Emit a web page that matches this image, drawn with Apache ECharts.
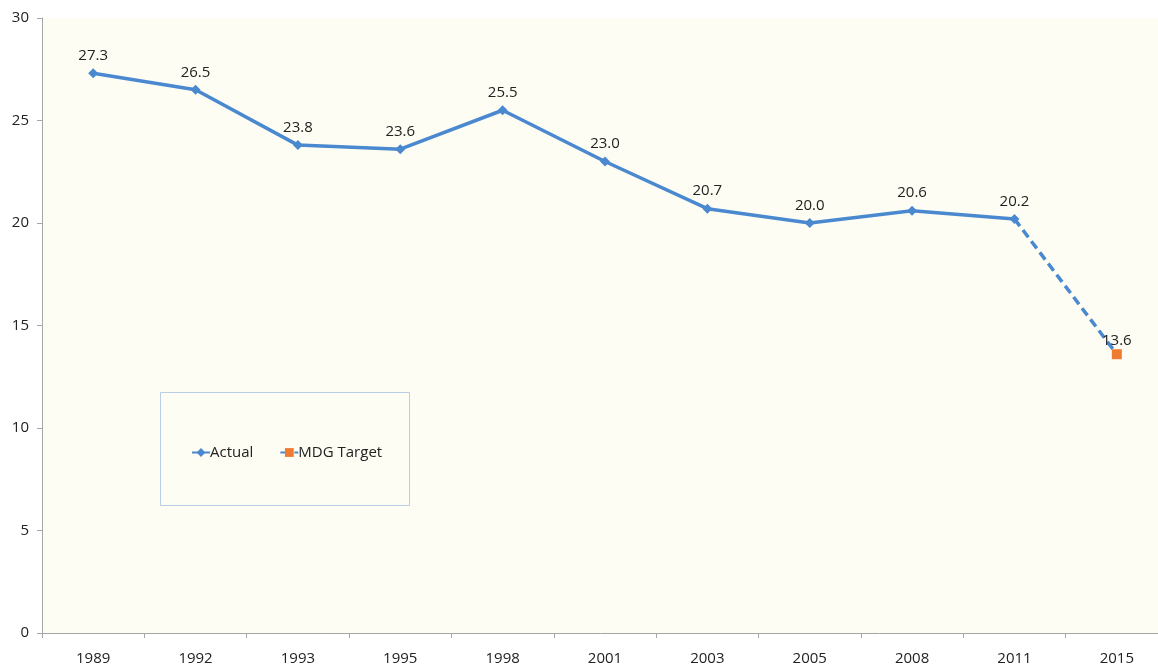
<!DOCTYPE html>
<html>
<head>
<meta charset="utf-8">
<script src="https://cdn.jsdelivr.net/npm/echarts@6/dist/echarts.min.js"></script>
<style>
  html, body { margin: 0; padding: 0; background: #fff; }
  #chart_div { width: 1158px; height: 667px; }
</style>
</head>
<body>
<div id="chart_div"></div>
<script>
var years = ["1989", "1992", "1993", "1995", "1998", "2001", "2003", "2005", "2008", "2011", "2015"];
var actual = [27.3, 26.5, 23.8, 23.6, 25.5, 23.0, 20.7, 20.0, 20.6, 20.2, null];
var target = [null, null, null, null, null, null, null, null, null, 20.2, 13.6];
var yTicks = { min: 0, max: 30, step: 5 };

var blue = "#4A89CF";
var orange = "#EE7B30";
var font = "Open Sans";

var myChart = echarts.init(document.getElementById("chart_div"));

var targetData = target.map(function (v, i) {
  if (v === null) return null;
  // the start of the dashed part sits on the last actual point, no marker there
  if (i < target.length - 1) {
    return { value: v, symbol: "none", label: { show: false } };
  }
  return v;
});

var option = {
  animation: false,
  textStyle: { fontFamily: font },
  grid: {
    left: 42,
    top: 18,
    right: -10,
    bottom: 34,
    outerBoundsMode: "none",
    containLabel: false,
    show: true,
    backgroundColor: "#FEFDF4",
    borderWidth: 0
  },
  graphic: [
    {
      type: "rect",
      left: 160,
      top: 392,
      shape: { width: 249, height: 113 },
      style: { fill: "#FEFDF4", stroke: "#B9CDE6", lineWidth: 1 },
      z: 5
    }
  ],
  legend: {
    left: 186,
    top: 440,
    z: 6,
    itemGap: 26,
    itemWidth: 18,
    itemHeight: 11,
    textStyle: { fontFamily: font, fontSize: 15, color: "#222", padding: [0, 0, 0, -5] },
    data: ["Actual", "MDG Target"]
  },
  xAxis: {
    type: "category",
    data: years,
    boundaryGap: true,
    axisLine: { lineStyle: { color: "#A6A6A6", width: 1 } },
    axisTick: { show: true, length: 5, lineStyle: { color: "#A6A6A6" } },
    axisLabel: { color: "#222", fontSize: 15, margin: 18, fontFamily: font },
    splitLine: { show: false }
  },
  yAxis: {
    type: "value",
    min: yTicks.min,
    max: yTicks.max,
    interval: yTicks.step,
    axisLine: { show: true, lineStyle: { color: "#A6A6A6", width: 1 } },
    axisTick: { show: true, length: 5, lineStyle: { color: "#A6A6A6" } },
    axisLabel: { color: "#222", fontSize: 15, margin: 13, fontFamily: font },
    splitLine: { show: false }
  },
  series: [
    {
      name: "Actual",
      type: "line",
      data: actual,
      symbol: "diamond",
      symbolSize: 10,
      lineStyle: { color: blue, width: 3.5 },
      itemStyle: { color: blue },
      label: {
        show: true,
        position: "top",
        distance: 5,
        color: "#222",
        fontSize: 15,
        fontFamily: font,
        formatter: function (p) { return p.value.toFixed(1); }
      },
      z: 3
    },
    {
      name: "MDG Target",
      type: "line",
      data: targetData,
      symbol: "rect",
      symbolSize: 10,
      lineStyle: { color: blue, width: 3.5, type: [9, 5] },
      itemStyle: { color: orange },
      label: {
        show: true,
        position: "top",
        distance: 1,
        color: "#222",
        fontSize: 15,
        fontFamily: font,
        formatter: function (p) { return Number(p.value).toFixed(1); }
      },
      z: 2
    }
  ]
};

myChart.setOption(option);
</script>
</body>
</html>
